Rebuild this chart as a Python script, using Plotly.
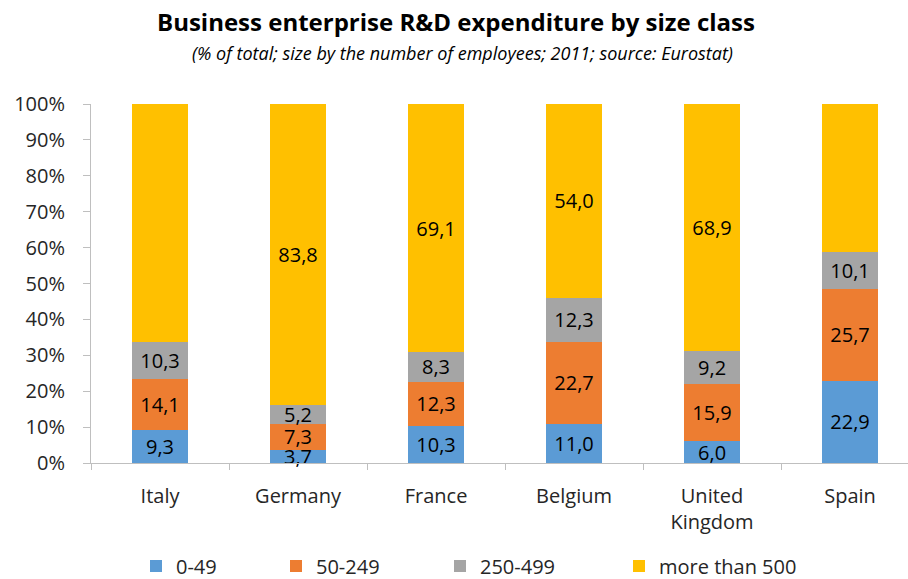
import plotly.graph_objects as go

countries = ["Italy", "Germany", "France", "Belgium", "United<br>Kingdom", "Spain"]
series_names = ["0-49", "50-249", "250-499", "more than 500"]
s_0_49 = [9.3, 3.7, 10.3, 11.0, 6.0, 22.9]
s_50_249 = [14.1, 7.3, 12.3, 22.7, 15.9, 25.7]
s_250_499 = [10.3, 5.2, 8.3, 12.3, 9.2, 10.1]
s_500 = [66.4, 83.8, 69.1, 54.0, 68.9, 41.4]
colors = ["#5B9BD5", "#ED7D31", "#A5A5A5", "#FFC000"]
y_ticks = [0, 10, 20, 30, 40, 50, 60, 70, 80, 90, 100]

FONT = "Open Sans"
W, H = 908, 579
legend_centers = [160, 300, 464, 643]  # reference legend square centres (px)

fig = go.Figure()
layout_legends = {}
for i, (name, vals, col) in enumerate(zip(series_names, [s_0_49, s_50_249, s_250_499, s_500], colors)):
    lg = "legend" if i == 0 else f"legend{i+1}"
    fig.add_trace(go.Bar(
        x=countries, y=vals, name=name, marker=dict(color=col, line=dict(width=0)),
        text=[f"{v:.1f}".replace(".", ",") for v in vals],
        textposition="inside", insidetextanchor="middle",
        textfont=dict(family=FONT, size=20, color="#000000"),
        cliponaxis=False, width=0.4, legend=lg,
    ))
    layout_legends[lg] = dict(
        orientation="h", xref="container", yref="container",
        x=(legend_centers[i] - 24) / W, xanchor="left",
        y=1 - 566 / H, yanchor="middle",
        font=dict(family=FONT, size=20, color="#262626"),
        bgcolor="rgba(0,0,0,0)", borderwidth=0,
    )

fig.update_layout(
    barmode="stack",
    width=W, height=H,
    margin=dict(l=91, r=0, t=104, b=116, autoexpand=False),
    paper_bgcolor="white", plot_bgcolor="white",
    uniformtext=dict(minsize=20, mode="show"),
    font=dict(family=FONT, size=20, color="#262626"),
    showlegend=True,
    xaxis=dict(range=[-0.5, 5.42], showline=True, linecolor="#BFBFBF", linewidth=1,
               ticks="outside", tickson="boundaries", ticklen=6, tickcolor="#BFBFBF",
               ticklabelstandoff=15,
               showgrid=False, tickfont=dict(family=FONT, size=20, color="#262626")),
    yaxis=dict(range=[0, 100], tickvals=y_ticks, ticktext=[f"{t}%" for t in y_ticks],
               showline=True, linecolor="#BFBFBF", linewidth=1, ticks="outside", ticklen=7,
               tickcolor="#BFBFBF", showgrid=False, zeroline=False, ticklabelstandoff=14,
               tickfont=dict(family=FONT, size=20, color="#262626")),
    **layout_legends,
)
fig.add_annotation(text="<b>Business enterprise R&amp;D expenditure by size class</b>",
                   xref="paper", yref="paper", x=(456 - 91) / 817, y=1 + (104 - 22) / 359,
                   xanchor="center", yanchor="middle", showarrow=False,
                   font=dict(family=FONT, size=24, color="#000000"))
fig.add_annotation(text="<i>(% of total; size by the number of employees; 2011; source: Eurostat)</i>",
                   xref="paper", yref="paper", x=(462 - 91) / 817, y=1 + (104 - 53) / 359,
                   xanchor="center", yanchor="middle", showarrow=False,
                   font=dict(family=FONT, size=18, color="#000000"))
fig.write_html("out.html")
